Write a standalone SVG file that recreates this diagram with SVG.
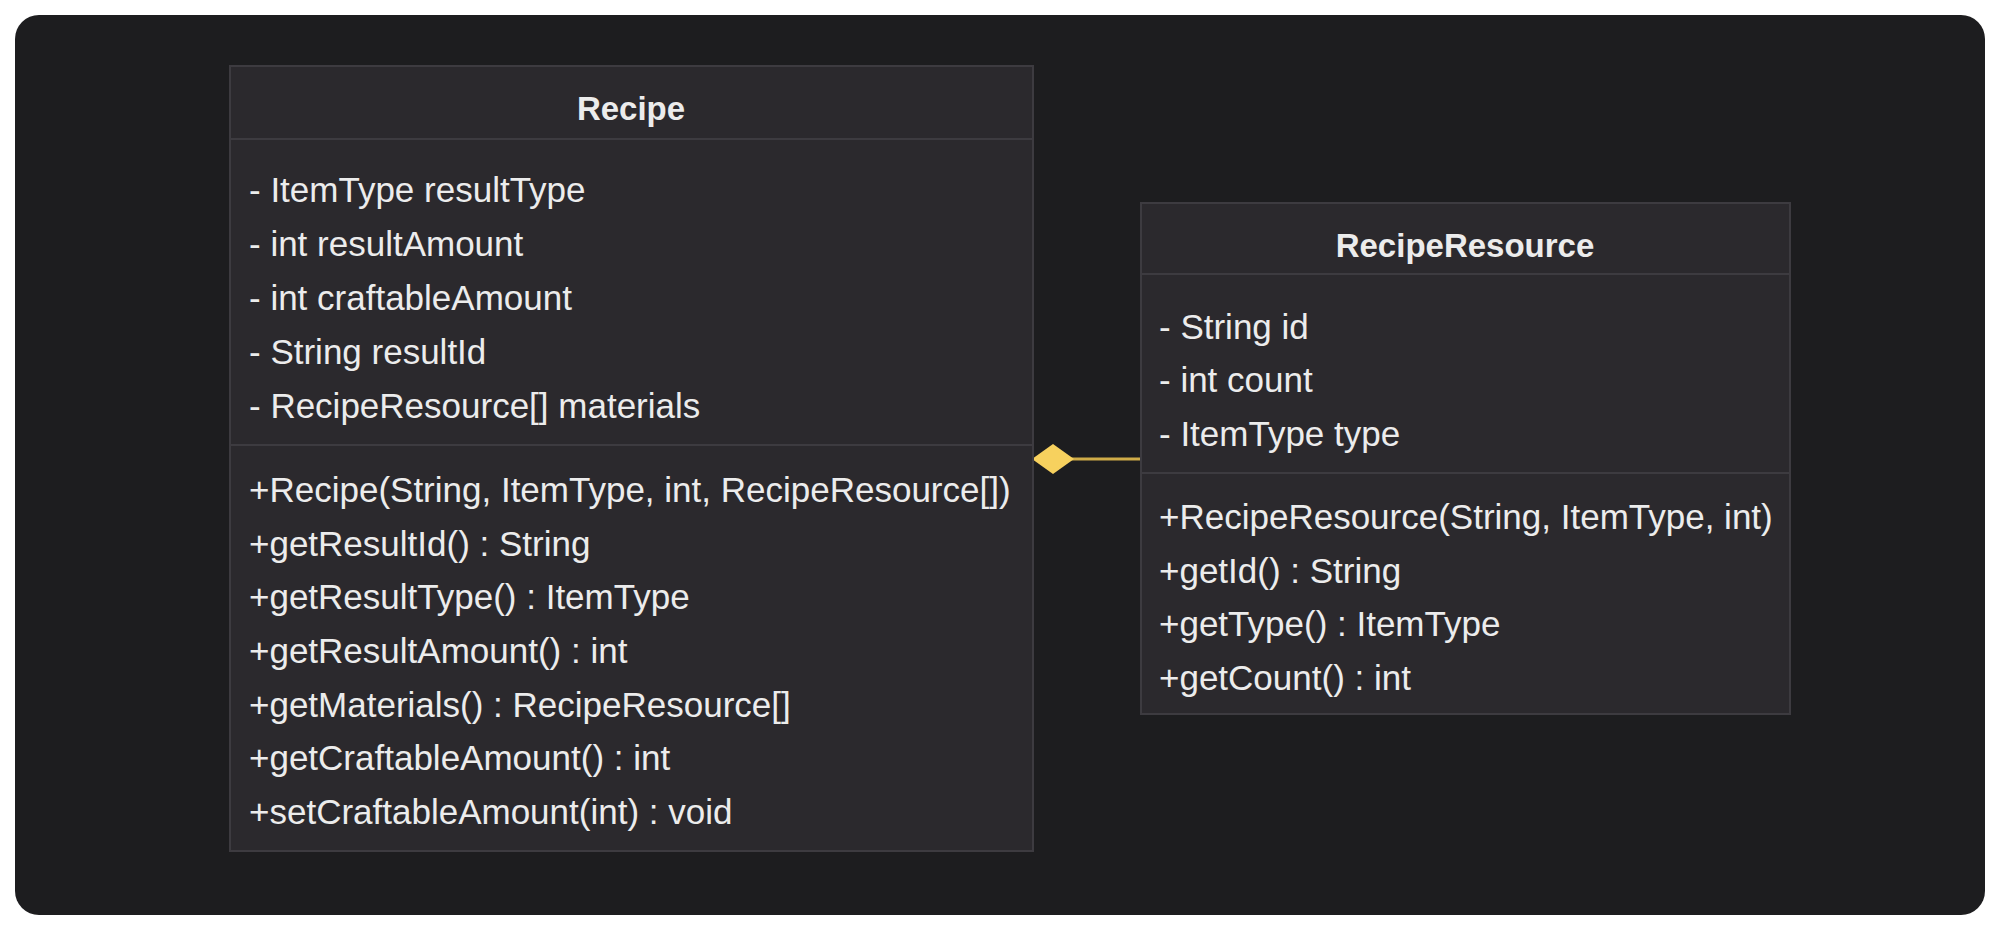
<svg xmlns="http://www.w3.org/2000/svg" width="2000" height="930" viewBox="0 0 2000 930">
<style>
.box{fill:#2b292d;stroke:#3d3b40;stroke-width:2}
.div{stroke:#3d3b40;stroke-width:2}
.t{font-family:"Liberation Sans",Arial,sans-serif;font-size:35px;fill:#ececec}
.h{font-family:"Liberation Sans",Arial,sans-serif;font-size:33px;font-weight:bold;fill:#ececec;text-anchor:middle}
</style>
<rect x="0" y="0" width="2000" height="930" fill="#ffffff"/>
<rect x="15" y="15" width="1970" height="900" rx="24" ry="24" fill="#1d1d1f"/>
<g id="connectors">
<line x1="1070" y1="459" x2="1140" y2="459" stroke="#cfac48" stroke-width="3"/>
<polygon points="1032,459 1053,444 1074,459 1053,474" fill="#f7d15e"/>
</g>
<g id="Recipe">
<rect class="box" x="230" y="66" width="803" height="785"/>
<line class="div" x1="230" y1="139" x2="1033" y2="139"/>
<line class="div" x1="230" y1="445" x2="1033" y2="445"/>
<text class="h" x="631" y="120">Recipe</text>
<text class="t" x="249" y="202">- ItemType resultType</text>
<text class="t" x="249" y="256">- int resultAmount</text>
<text class="t" x="249" y="310">- int craftableAmount</text>
<text class="t" x="249" y="364">- String resultId</text>
<text class="t" x="249" y="418">- RecipeResource[] materials</text>
<text class="t" x="249" y="502">+Recipe(String, ItemType, int, RecipeResource[])</text>
<text class="t" x="249" y="556">+getResultId() : String</text>
<text class="t" x="249" y="609">+getResultType() : ItemType</text>
<text class="t" x="249" y="663">+getResultAmount() : int</text>
<text class="t" x="249" y="717">+getMaterials() : RecipeResource[]</text>
<text class="t" x="249" y="770">+getCraftableAmount() : int</text>
<text class="t" x="249" y="824">+setCraftableAmount(int) : void</text>
</g>
<g id="RecipeResource">
<rect class="box" x="1141" y="203" width="649" height="511"/>
<line class="div" x1="1141" y1="274" x2="1790" y2="274"/>
<line class="div" x1="1141" y1="473" x2="1790" y2="473"/>
<text class="h" x="1465" y="257">RecipeResource</text>
<text class="t" x="1159" y="339">- String id</text>
<text class="t" x="1159" y="392">- int count</text>
<text class="t" x="1159" y="446">- ItemType type</text>
<text class="t" x="1159" y="529">+RecipeResource(String, ItemType, int)</text>
<text class="t" x="1159" y="583">+getId() : String</text>
<text class="t" x="1159" y="636">+getType() : ItemType</text>
<text class="t" x="1159" y="690">+getCount() : int</text>
</g>
</svg>
